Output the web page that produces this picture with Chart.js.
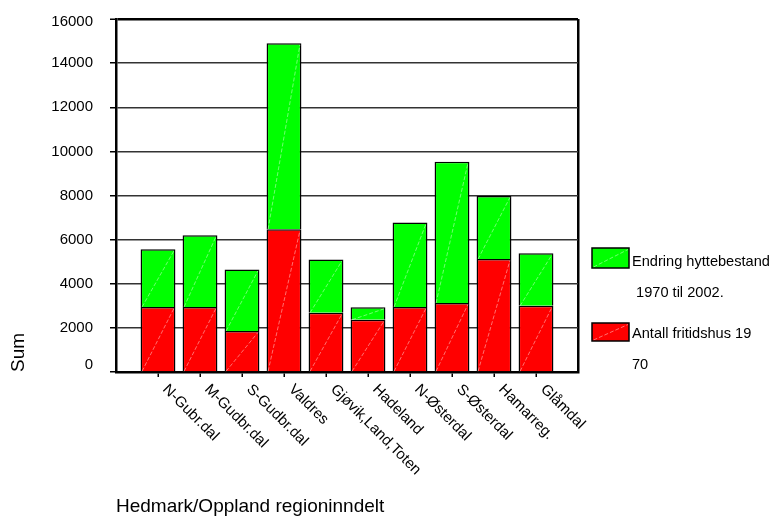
<!DOCTYPE html>
<html>
<head>
<meta charset="utf-8">
<title>Fritidshus i Hedmark og Oppland</title>
<script src="https://cdn.jsdelivr.net/npm/chart.js@4.4.0/dist/chart.umd.min.js"></script>
<style>
  html, body { margin: 0; padding: 0; background: #ffffff; }
  canvas { display: block; }
</style>
</head>
<body>
<canvas id="chart" width="779" height="518"></canvas>
<script>
// Regions along the category axis
const regions = ['N-Gubr.dal', 'M-Gudbr.dal', 'S-Gudbr.dal', 'Valdres', 'Gjøvik,Land,Toten',
                 'Hadeland', 'N-Østerdal', 'S-Østerdal', 'Hamarreg.', 'Glåmdal'];

// Number of holiday homes in 1970 (lower segment)
const fritidshus1970 = [2950, 2950, 1860, 6470, 2690, 2370, 2950, 3130, 5120, 3000];

// Change in the cabin stock 1970-2002 (upper segment)
const endring1970til2002 = [2610, 3250, 2790, 8430, 2410, 560, 3830, 6400, 2860, 2380];

// Value axis ticks
const yTicks = [0, 2000, 4000, 6000, 8000, 10000, 12000, 14000, 16000];

// Series names and how they wrap in the legend
const seriesNames = ['Antall fritidshus 1970', 'Endring hyttebestand 1970 til 2002.'];
const legendLines = [['Endring hyttebestand', ' 1970 til 2002.'], ['Antall fritidshus 19', '70']];

const xTitle = 'Hedmark/Oppland regioninndelt';
const yTitle = 'Sum';

const FAMILY = "'Liberation Sans', Arial, Helvetica, sans-serif";
const FS = 14.6;
const TICK_FS = 15;
const GREEN = '#00ff00';
const RED = '#ff0000';

Chart.defaults.font.family = FAMILY;
Chart.defaults.font.size = FS;
Chart.defaults.color = '#000';

// An empty slot on each side of the regions gives the wide margins of the category axis
const slots = [''].concat(regions, ['']);
const pad = arr => [null].concat(arr, [null]);

// Faint diagonal streak across a filled rectangle
function streak(ctx, x0, y0, x1, y1) {
  ctx.save();
  ctx.strokeStyle = 'rgba(255,255,255,0.55)';
  ctx.lineWidth = 0.8;
  ctx.setLineDash([4, 2]);
  ctx.beginPath();
  ctx.moveTo(x0, y0);
  ctx.lineTo(x1, y1);
  ctx.stroke();
  ctx.restore();
}

const barStreaks = {
  id: 'barStreaks',
  afterDatasetsDraw(chart) {
    const ctx = chart.ctx;
    chart.data.datasets.forEach((ds, di) => {
      chart.getDatasetMeta(di).data.forEach((el, i) => {
        if (ds.data[i] == null || el.y == null || isNaN(el.y)) return;
        const w = el.width;
        streak(ctx, el.x - w / 2 + 1.5, el.base, el.x + w / 2 - 1.5, el.y + 1.5);
      });
    });
  }
};

// Category labels hang down to the right from each tick
const slantedLabels = {
  id: 'slantedLabels',
  afterDraw(chart) {
    const sx = chart.scales.x;
    const ctx = chart.ctx;
    ctx.save();
    ctx.font = TICK_FS + 'px ' + FAMILY;
    ctx.fillStyle = '#000';
    ctx.textAlign = 'left';
    ctx.textBaseline = 'alphabetic';
    sx.ticks.forEach((t, i) => {
      const label = sx.getLabelForValue(t.value);
      if (!label) return;
      const x = sx.getPixelForTick(i);
      ctx.save();
      ctx.translate(x + 4, sx.top + 18);
      ctx.rotate(Math.PI / 4);
      ctx.fillText(label, 0, 0);
      ctx.restore();
    });
    ctx.restore();
  }
};

// Keep the lowest and highest value labels inside the plot's height
const edgeTickLabels = {
  id: 'edgeTickLabels',
  beforeDraw(chart) {
    const sy = chart.scales.y;
    if (!sy.getLabelItems) return;
    sy.getLabelItems(chart.chartArea).forEach(it => {
      if (it._shifted) return;
      const tr = it.options && it.options.translation;
      if (!tr) return;
      if (it.label === String(yTicks[0])) tr[1] -= 7;
      if (it.label === String(yTicks[yTicks.length - 1])) tr[1] += 3;
      it._shifted = true;
    });
  }
};

// Legend at the right with wrapped series names
const sideLegend = {
  id: 'sideLegend',
  afterDraw(chart) {
    const ctx = chart.ctx;
    const left = chart.chartArea.right + 14;
    const entries = [
      { color: GREEN, lines: legendLines[0], boxTop: 248, boxH: 20, base: 266 },
      { color: RED, lines: legendLines[1], boxTop: 323, boxH: 18, base: 338 }
    ];
    ctx.save();
    ctx.font = FS + 'px ' + FAMILY;
    ctx.textAlign = 'left';
    ctx.textBaseline = 'alphabetic';
    entries.forEach(e => {
      ctx.fillStyle = e.color;
      ctx.fillRect(left, e.boxTop, 37, e.boxH);
      streak(ctx, left + 1.5, e.boxTop + e.boxH - 1, left + 36, e.boxTop + 1.5);
      ctx.strokeStyle = '#000';
      ctx.lineWidth = 1.5;
      ctx.strokeRect(left, e.boxTop, 37, e.boxH);
      ctx.fillStyle = '#000';
      e.lines.forEach((ln, k) => ctx.fillText(ln, left + 40, e.base + k * 31));
    });
    ctx.restore();
  }
};

new Chart(document.getElementById('chart'), {
  type: 'bar',
  data: {
    labels: slots,
    datasets: [
      {
        label: seriesNames[0],
        data: pad(fritidshus1970),
        backgroundColor: RED,
        borderColor: '#000',
        borderWidth: 1.5
      },
      {
        label: seriesNames[1],
        data: pad(endring1970til2002),
        backgroundColor: GREEN,
        borderColor: '#000',
        borderWidth: 1.5
      }
    ]
  },
  options: {
    responsive: false,
    devicePixelRatio: 1,
    animation: false,
    layout: { padding: { top: 19, right: 201, bottom: 0, left: 0 } },
    datasets: { bar: { barPercentage: 0.83, categoryPercentage: 1.0 } },
    plugins: {
      legend: { display: false },
      tooltip: { enabled: false }
    },
    scales: {
      x: {
        stacked: true,
        offset: false,
        grid: {
          offset: false,
          drawOnChartArea: true,
          drawTicks: true,
          tickLength: 5,
          color: ctx => ctx.index === slots.length - 1 ? '#000' : 'rgba(0,0,0,0)',
          lineWidth: 2.5,
          tickColor: ctx => (ctx.index === 0 || ctx.index === slots.length - 1) ? 'rgba(0,0,0,0)' : '#000',
          tickWidth: 1.5
        },
        border: { display: true, color: '#000', width: 2.5 },
        ticks: { display: false },
        title: {
          display: true,
          text: xTitle,
          align: 'start',
          font: { size: 19 },
          padding: { top: 0, bottom: 0 }
        },
        afterFit: scale => { scale.height = 146; }
      },
      y: {
        stacked: true,
        min: 0,
        max: 16000,
        afterBuildTicks: scale => { scale.ticks = yTicks.map(v => ({ value: v })); },
        grid: {
          color: ctx => (ctx.tick && ctx.tick.value === 16000) ? '#000' : '#333',
          lineWidth: ctx => (ctx.tick && ctx.tick.value === 16000) ? 2.5 : 1.5,
          tickLength: 6,
          tickColor: '#000',
          tickWidth: 1.5
        },
        border: { display: true, color: '#000', width: 2.5 },
        ticks: { padding: 17, font: { size: TICK_FS }, color: '#000', callback: v => String(v) },
        title: {
          display: true,
          text: yTitle,
          align: 'start',
          font: { size: 19 },
          padding: { top: 7, bottom: 0 }
        },
        afterFit: scale => {
          scale.width = 116;
          scale.paddingTop = 0;
          scale.paddingBottom = 0;
        }
      }
    }
  },
  plugins: [barStreaks, slantedLabels, edgeTickLabels, sideLegend]
});
</script>
</body>
</html>
